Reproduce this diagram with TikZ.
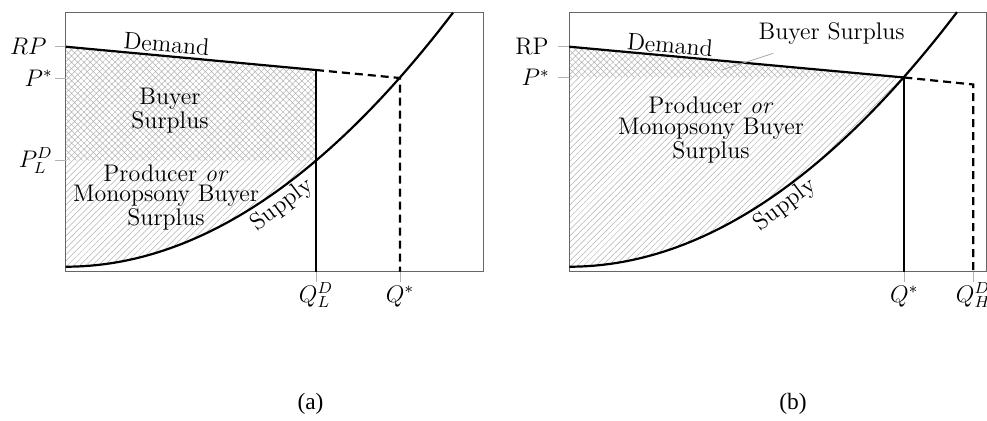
\documentclass[tikz,border=0pt]{standalone}
\usepackage{fontspec}
\newfontfamily\capfont{Liberation Serif}
\usetikzlibrary{patterns.meta}
\begin{document}
\begin{tikzpicture}[x=0.5pt,y=-0.5pt,
  axisbox/.style={draw=black!60,line width=0.6pt},
  tickline/.style={draw=black!30,line width=0.4pt},
  pointer/.style={draw=black!35,line width=0.4pt},
  curve/.style={line width=1.1pt,black},
  dashline/.style={line width=1.1pt,black,dash pattern=on 4pt off 2.5pt},
  xhatch/.style={pattern={Hatch[angle=45,distance=2.2pt,line width=0.25pt]},pattern color=black!30},
  lhatch/.style={pattern={Lines[angle=45,distance=2.2pt,line width=0.25pt]},pattern color=black!30},
  lbl/.style={font=\fontsize{12}{10.3}\selectfont,align=center,inner sep=0pt},
  ticklbl/.style={font=\fontsize{12}{14}\selectfont,inner sep=0pt},
  caplbl/.style={font=\capfont\fontsize{11.7}{13}\selectfont,inner sep=0pt}
]
\useasboundingbox (0,0) rectangle (987,420);

% ---------------- panel (a) ----------------
\coordinate (aRP) at (65.7,46.7);
\coordinate (aQL) at (316,70);
\coordinate (aPL) at (65.7,160.7);
\coordinate (aQLPL) at (316,160.7);
\coordinate (aStar) at (400,78);
\coordinate (aQLb) at (316,271.7);
\coordinate (aStarb) at (400,271.7);

\fill[xhatch] (aRP) -- (aQL) -- (aQLPL) -- (aPL) -- cycle;
\fill[lhatch] (aPL) -- (aQLPL) -- plot[domain=250.3:0,samples=60] ({65.7+\x},{266.7-0.001692*\x*\x}) -- cycle;

\draw[axisbox] (65.7,12.7) rectangle (483.3,271.7);

\draw[tickline] (55,46.7) -- (aRP);
\draw[tickline] (55,78.3) -- (65.7,78.3);
\draw[tickline] (55,160.7) -- (aPL);
\draw[tickline] (aQLb) -- (316,282);
\draw[tickline] (aStarb) -- (400,282);

\draw[curve] plot[domain=0:387.3,samples=80] ({65.7+\x},{266.7-0.001692*\x*\x});
\draw[curve] (aRP) -- (aQL);
\draw[curve] (aQL) -- (aQLb);
\draw[dashline] (aQL) -- (aStar) -- (aStarb);

\node[ticklbl,anchor=east] (aRPl) at (47,46.7) {$RP$};
\node[ticklbl,anchor=east] (aPSl) at (53,78.3) {$P^*$};
\node[ticklbl,anchor=east] (aPLl) at (53,160.7) {$P_L^D$};
\node[ticklbl,anchor=base] (aQLl) at (316,302) {$Q_L^D$};
\node[ticklbl,anchor=base] (aQSl) at (400,302) {$Q^*$};

\node[lbl,rotate=-5] (aDem) at (166.5,44) {Demand};
\node[lbl] (aBS) at (170,111) {Buyer\\Surplus};
\node[lbl] (aPS) at (166,197.5) {Producer \emph{or}\\Monopsony Buyer\\Surplus};
\node[lbl,rotate=37] (aSup) at (282,205) {Supply};

\node[caplbl,anchor=base] (capa) at (310.5,409) {(a)};

% ---------------- panel (b) ----------------
\coordinate (bRP) at (569.3,46.7);
\coordinate (bPS) at (569.3,77.5);
\coordinate (bQS) at (904.3,77.5);
\coordinate (bQH) at (973.3,84.5);
\coordinate (bQSb) at (904.3,271.7);
\coordinate (bQHb) at (973.3,271.7);

\fill[xhatch] (bRP) -- (bQS) -- (bPS) -- cycle;
\fill[lhatch] (bPS) -- (bQS) -- plot[domain=335:0,samples=60] ({569.3+\x},{266.7-0.001692*\x*\x}) -- cycle;

\draw[axisbox] (569.3,12.7) rectangle (986.6,271.7);

\draw[tickline] (558,46.7) -- (bRP);
\draw[tickline] (558,77.5) -- (bPS);
\draw[tickline] (bQSb) -- (904.3,282);
\draw[tickline] (bQHb) -- (973.3,282);

\draw[curve] plot[domain=0:387.7,samples=80] ({569.3+\x},{266.7-0.001692*\x*\x});
\draw[curve] (bRP) -- (bQS);
\draw[curve] (bQS) -- (bQSb);
\draw[dashline] (bQS) -- (bQH) -- (bQHb);

\node[ticklbl,anchor=east] (bRPl) at (549,46.7) {RP};
\node[ticklbl,anchor=east] (bPSl) at (550,77.5) {$P^*$};
\node[ticklbl,anchor=base] (bQSl) at (904.3,302) {$Q^*$};
\node[ticklbl,anchor=base] (bQHl) at (973.3,302) {$Q_H^D$};

\node[lbl,rotate=-5] (bDem) at (670,45) {Demand};
\node[lbl] (bBS) at (831.7,33.5) {Buyer Surplus};
\coordinate (bPtr) at (721.7,70);
\draw[pointer] (773.3,53.3) -- (bPtr);
\node[lbl] (bPSt) at (711,130) {Producer \emph{or}\\Monopsony Buyer\\Surplus};
\node[lbl,rotate=37] (bSup) at (785,205) {Supply};

\node[caplbl,anchor=base] (capb) at (793,409) {(b)};
\end{tikzpicture}
\end{document}
